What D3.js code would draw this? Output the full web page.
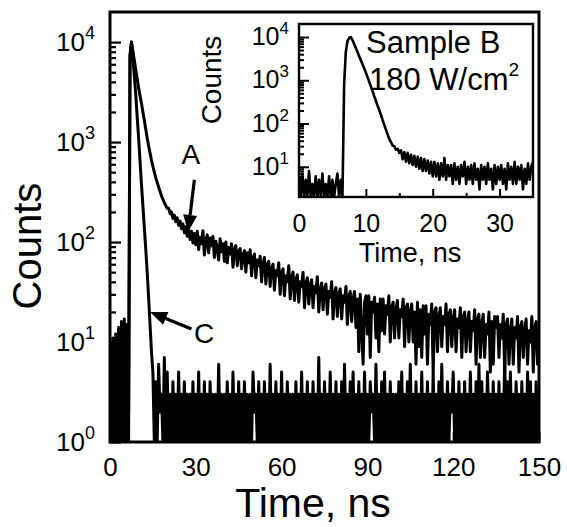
<!DOCTYPE html>
<html><head><meta charset="utf-8">
<script src="https://cdn.jsdelivr.net/npm/d3@7"></script>
<style>
body{margin:0;background:#fff}
svg{display:block}
text{font-family:"Liberation Sans",Arial,Helvetica,sans-serif;fill:#000}
</style>
</head><body>
<svg id="chart" width="567" height="527"></svg>
<script>
// ---------- DATA ----------
// main panel: channel width 0.5 ns, 0..150 ns
const mainStep = 0.5;
const curveA = [
10,2,11,1,12,2,14,1,16,2,17,1,15,
2,7500,10000,8200,6600,5300,4300,3500,2900,2450,2000,1650,1350,1100,920,780,660,570,500,440,395,355,320,290,268,248,232,218,
218,192,200,172,186,160,175,147,162,136,152,124,142,114,134,106,128,98,122,94,
128,84,112,96,130,74,104,118,78,110,
92,114,70,102,88,66,108,80,96,64,
100,62,88,76,96,56,84,92,58,80,
86,54,74,82,50,78,62,84,46,70,
76,44,66,58,72,40,62,70,38,60,
64,36,54,60,33,52,46,62,30,50,
54,29,46,40,58,27,44,50,26,42,
47,25,40,36,50,22,38,44,24,37,
42,22,36,31,45,20,33,39,21,34,
38,19,32,28,40,17,31,35,18,30,
34,17,29,25,36,15,28,32,16,27,
32,14,27,8,30,13,6,25,29,12,
29,7,25,20,28,11,24,8,27,13,
27,12,23,19,29,10,22,25,11,21,
26,11,21,18,27,9,22,24,10,20,
24,10,20,6,25,9,21,7,23,12,
23,6,19,15,24,5,20,22,8,18,
22,9,18,15,24,8,19,21,9,17,
21,8,17,14,22,7,18,20,8,16,
20,8,16,13,21,6,17,19,7,15,
19,7,15,12,20,5,16,6,18,14,
18,7,15,11,19,5,15,17,6,13,
17,6,14,11,18,5,14,16,7,13,
17,6,13,10,18,5,14,16,6,14
];
const curveC = [
1,9,1,10,1,8,1,12,1,15,1,14,1,
1,7000,10000,7000,4600,3000,1800,1100,650,380,230,140,85,50,28,15,8,
5,1,4,1,6,2,3,1,7,1,
5,1,3,1,4,1,3,1,5,1,
3,1,4,1,3,1,3,1,4,1,
3,1,5,1,3,1,4,1,3,1,
4,1,3,1,3,1,6,1,3,1,
3,1,4,1,3,1,5,1,3,1,
4,1,3,1,4,1,3,1,3,1,
5,2,3,1,4,1,3,1,4,1,
3,1,6,1,3,1,4,1,3,1,
5,1,3,1,4,1,3,1,3,1,
4,1,3,1,5,1,3,1,4,1,
3,1,4,1,3,1,7,1,3,1,
4,1,3,1,5,1,3,1,4,1,
3,1,4,1,6,1,3,1,4,1,
5,1,3,1,4,1,3,1,5,1,
3,1,4,2,3,1,6,1,3,1,
4,1,5,1,3,1,4,1,3,1,
3,1,4,1,5,1,3,1,4,1,
6,1,3,1,4,1,3,1,5,1,
3,1,4,1,3,1,5,1,3,1,
4,1,6,1,3,1,4,1,3,2,
5,1,3,1,4,1,3,1,4,1,
3,1,5,1,3,1,4,1,6,1,
4,1,3,1,5,1,3,1,4,1,
3,1,4,1,3,1,7,1,4,1,
5,1,3,1,4,1,3,1,4,1,
3,1,5,1,4,1,3,1,4,1,
3
];
// inset (Sample B): channel width 0.25 ns, 0..35 ns
const insetStep = 0.25;
const sampleB = [
6,2,7,2,5,2,8,2,4,2,6,2,5,2,7,2,4,2,6,2,5,2,4,7,2,5,2,
800,4500,8000,9500,10000,8500,6900,5600,4500,3600,2900,2350,1900,1500,1180,920,720,560,430,335,260,205,160,122,93,72,56,44,
37,31,30,25,26,21,
24,15,22,13,
21,12,19,11,
18,10,17,9,
16,8,15,8,
14,7,13,6,
13,6,12,5,12,6,16,5,11,6,
11,4,12,5,10,4,11,6,13,4,
10,5,11,4,12,5,9,3,11,5,
10,4,12,5,9,3,11,4,10,5,
11,4,9,3,12,5,10,4,13,4,
10,5,11,3,9,4,12,5,10,13
];
const mainXTicks = [0,30,60,90,120,150];
const mainYExps = [0,1,2,3,4];
const insetXTicks = [0,10,20,30];
const insetXMinor = [5,15,25];
const insetYExps = [1,2,3,4];
// annotation anchors in data units [time, counts]
const annA = {label:"A", text:[28.3,600], tail:[29.5,420], tip:[27.3,126]};
const annC = {label:"C", text:[32.9,9.8], tail:[28.5,13.5], tip:[14.0,20]};

// ---------- LAYOUT ----------
const svg = d3.select("#chart");
const M = {l:110, r:539, t:12, b:442};
const I = {l:299, r:533, t:24, b:197};
const x = d3.scaleLinear([0,150],[M.l,M.r]);
const y = d3.scaleLog([1,20000],[M.b,M.t]).clamp(true);
const xi = d3.scaleLinear([0,35],[I.l,I.r]);
const yi = d3.scaleLog([2,20000],[I.b,I.t]).clamp(true);

const defs = svg.append("defs");
defs.append("clipPath").attr("id","clipM").append("rect")
  .attr("x",M.l).attr("y",M.t).attr("width",M.r-M.l).attr("height",M.b-M.t);
defs.append("clipPath").attr("id","clipI").append("rect")
  .attr("x",I.l).attr("y",I.t).attr("width",I.r-I.l).attr("height",I.b-I.t);

const lineMain = d3.line().x((d,i)=>x(i*mainStep)).y(d=>y(d));
const lineInset = d3.line().x((d,i)=>xi(i*insetStep)).y(d=>yi(d));

const gM = svg.append("g").attr("clip-path","url(#clipM)");
[curveC, curveA].forEach(s=>{
  gM.append("path").datum(s).attr("d",lineMain)
    .attr("fill","none").attr("stroke","#000").attr("stroke-width",3)
    .attr("stroke-linejoin","round");
});

// main axes
function styleAxis(g, w){
  g.select(".domain").remove();
  g.selectAll(".tick line").attr("stroke","#000").attr("stroke-width",w);
}
const majorY = mainYExps.map(e=>Math.pow(10,e));
const minorY = [];
mainYExps.forEach(e=>{ for(let m=2;m<=9;m++){ const v=m*Math.pow(10,e); if(v<20000) minorY.push(v);} });
svg.append("g").attr("transform",`translate(${M.l},0)`)
  .call(d3.axisLeft(y).tickValues(majorY).tickSize(-11).tickFormat(""))
  .call(g=>styleAxis(g,2.2));
svg.append("g").attr("transform",`translate(${M.l},0)`)
  .call(d3.axisLeft(y).tickValues(minorY).tickSize(-6).tickFormat(""))
  .call(g=>styleAxis(g,2.2));
const xAx = svg.append("g").attr("transform",`translate(0,${M.b})`)
  .call(d3.axisBottom(x).tickValues(mainXTicks).tickSize(-10).tickPadding(16).tickSizeOuter(0))
  .call(g=>styleAxis(g,2));
xAx.selectAll("text").attr("font-size",26).attr("font-family","Liberation Sans, Arial, sans-serif").attr("fill","#000");

svg.append("rect").attr("x",M.l).attr("y",M.t).attr("width",M.r-M.l).attr("height",M.b-M.t)
  .attr("fill","none").attr("stroke","#000").attr("stroke-width",3);

// main y labels with superscripts
mainYExps.forEach(e=>{
  const t = svg.append("text").attr("x",95).attr("y",y(Math.pow(10,e))+9)
    .attr("text-anchor","end").attr("font-size",26);
  t.append("tspan").text("10");
  t.append("tspan").attr("font-size",18).attr("dy",-12).text(String(e));
});

// titles
svg.append("text").attr("x",313).attr("y",517).attr("text-anchor","middle")
  .attr("font-size",41).text("Time, ns");
svg.append("text").attr("transform","translate(41,246) rotate(-90)")
  .attr("text-anchor","middle").attr("font-size",40).text("Counts");

// annotations
function arrow(a){
  const tx=x(a.tail[0]), ty=y(a.tail[1]), px=x(a.tip[0]), py=y(a.tip[1]);
  const ang=Math.atan2(py-ty,px-tx), L=17, W=7;
  const bx=px-L*Math.cos(ang), by=py-L*Math.sin(ang);
  svg.append("line").attr("x1",tx).attr("y1",ty).attr("x2",bx).attr("y2",by)
    .attr("stroke","#000").attr("stroke-width",3.2);
  svg.append("path").attr("d",`M${px},${py}L${bx+W*Math.sin(ang)},${by-W*Math.cos(ang)}L${bx-W*Math.sin(ang)},${by+W*Math.cos(ang)}Z`)
    .attr("fill","#000");
  svg.append("text").attr("x",x(a.text[0])).attr("y",y(a.text[1])).attr("text-anchor","middle")
    .attr("font-size",28).text(a.label);
}
arrow(annA); arrow(annC);

// ---------- INSET ----------
svg.append("rect").attr("x",I.l).attr("y",I.t).attr("width",I.r-I.l).attr("height",I.b-I.t).attr("fill","#fff");
svg.append("g").attr("clip-path","url(#clipI)").append("path").datum(sampleB).attr("d",lineInset)
  .attr("fill","none").attr("stroke","#000").attr("stroke-width",2.6).attr("stroke-linejoin","round");

const iMajorY = insetYExps.map(e=>Math.pow(10,e));
const iMinorY = [];
[0,1,2,3,4].forEach(e=>{ for(let m=2;m<=9;m++){ const v=m*Math.pow(10,e); if(v>2&&v<20000) iMinorY.push(v);} });
svg.append("g").attr("transform",`translate(${I.l},0)`)
  .call(d3.axisLeft(yi).tickValues(iMajorY).tickSize(-10).tickFormat(""))
  .call(g=>styleAxis(g,2));
svg.append("g").attr("transform",`translate(${I.l},0)`)
  .call(d3.axisLeft(yi).tickValues(iMinorY).tickSize(-5).tickFormat(""))
  .call(g=>styleAxis(g,2));
const ixAx = svg.append("g").attr("transform",`translate(0,${I.b})`)
  .call(d3.axisBottom(xi).tickValues(insetXTicks).tickSize(-8).tickPadding(17).tickSizeOuter(0))
  .call(g=>styleAxis(g,2));
ixAx.selectAll("text").attr("font-size",25).attr("font-family","Liberation Sans, Arial, sans-serif").attr("fill","#000");
svg.append("g").attr("transform",`translate(0,${I.b})`)
  .call(d3.axisBottom(xi).tickValues(insetXMinor).tickSize(-4).tickFormat(""))
  .call(g=>styleAxis(g,2));
svg.append("rect").attr("x",I.l).attr("y",I.t).attr("width",I.r-I.l).attr("height",I.b-I.t)
  .attr("fill","none").attr("stroke","#000").attr("stroke-width",2.4);

insetYExps.forEach(e=>{
  const t = svg.append("text").attr("x",289).attr("y",yi(Math.pow(10,e))+8)
    .attr("text-anchor","end").attr("font-size",25);
  t.append("tspan").text("10");
  t.append("tspan").attr("font-size",17).attr("dy",-11).text(String(e));
});
svg.append("text").attr("x",410).attr("y",262).attr("text-anchor","middle")
  .attr("font-size",27).text("Time, ns");
svg.append("text").attr("transform","translate(221,80) rotate(-90)")
  .attr("text-anchor","middle").attr("font-size",28).text("Counts");
svg.append("text").attr("x",366).attr("y",53).attr("font-size",31).text("Sample B");
const pw = svg.append("text").attr("x",369).attr("y",90).attr("font-size",31);
pw.append("tspan").text("180 W/cm");
pw.append("tspan").attr("font-size",19).attr("dy",-14).text("2");
</script>
</body></html>
